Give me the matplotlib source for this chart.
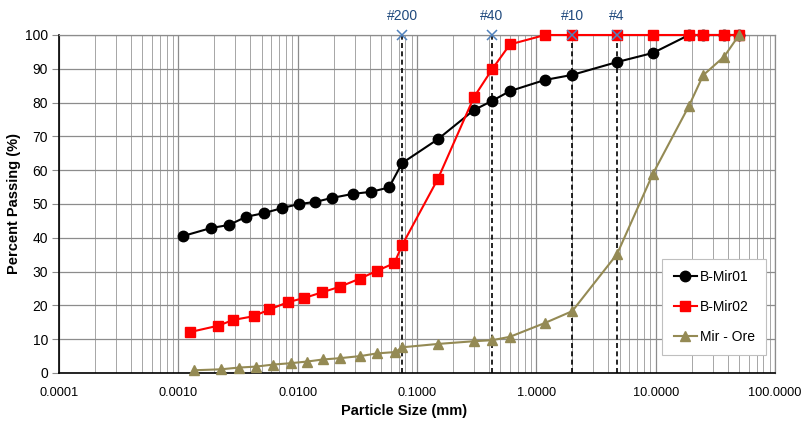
import matplotlib
matplotlib.use("Agg")
import matplotlib.pyplot as plt
from matplotlib.ticker import LogLocator, FixedLocator, NullFormatter

plt.rcParams['font.family'] = ['Liberation Sans', 'DejaVu Sans']

# B-Mir01
mir01_size = [0.00109, 0.00188, 0.00266, 0.00369, 0.00522, 0.0074, 0.0103, 0.014,
              0.0194, 0.0291, 0.0412, 0.0583, 0.075, 0.15, 0.30, 0.425, 0.6, 1.18,
              2.0, 4.75, 9.5, 19.0, 25.0, 37.5, 50.0]
mir01_pass = [40.5, 42.9, 43.8, 46.2, 47.3, 48.8, 50.0, 50.6, 51.8, 53.0, 53.6, 54.9,
              62.1, 69.2, 77.8, 80.5, 83.4, 86.7, 88.2, 92.0, 94.7, 100, 100, 100, 100]

# B-Mir02
mir02_size = [0.00125, 0.00216, 0.00289, 0.00428, 0.0058, 0.00836, 0.01138, 0.0161,
              0.0225, 0.0331, 0.046, 0.0646, 0.075, 0.15, 0.30, 0.425, 0.6, 1.18,
              2.0, 4.75, 9.5, 19.0, 25.0, 37.5, 50.0]
mir02_pass = [12.1, 14.0, 15.7, 16.8, 18.8, 21.0, 22.2, 23.9, 25.5, 27.9, 30.2, 32.5,
              37.8, 57.5, 81.6, 89.8, 97.2, 100, 100, 100, 100, 100, 100, 100, 100]

# Mir - Ore
ore_size = [0.00134, 0.00229, 0.0032, 0.0045, 0.00626, 0.00875, 0.01206, 0.0163,
            0.0228, 0.0334, 0.0463, 0.0659, 0.075, 0.15, 0.30, 0.425, 0.6, 1.18,
            2.0, 4.75, 9.5, 19.0, 25.0, 37.5, 50.0]
ore_pass = [0.8, 1.1, 1.6, 1.9, 2.5, 2.9, 3.4, 4.0, 4.4, 5.0, 5.8, 6.2,
            7.6, 8.6, 9.4, 9.7, 10.7, 14.8, 18.3, 35.2, 59.0, 79.0, 88.1, 93.6, 100]

# Sieves
sieve_size = [0.075, 0.425, 2.0, 4.75]
sieve_label = ["#200", "#40", "#10", "#4"]

x_ticks = [0.0001, 0.001, 0.01, 0.1, 1, 10, 100]
x_ticklabels = ["0.0001", "0.0010", "0.0100", "0.1000", "1.0000", "10.0000", "100.0000"]

fig = plt.figure(figsize=(8.02, 4.21), dpi=100)
ax = fig.add_axes([59/802, 1-373/421, (775-59)/802, (373-35)/421])

ax.set_xscale('log')
ax.set_xlim(0.0001, 100)
ax.set_ylim(0, 100)

ax.xaxis.set_major_locator(FixedLocator(x_ticks))
ax.set_xticklabels(x_ticklabels)
ax.xaxis.set_minor_locator(LogLocator(base=10, subs=range(2, 10), numticks=100))
ax.xaxis.set_minor_formatter(NullFormatter())
ax.set_yticks(range(0, 101, 10))

ax.grid(True, which='major', axis='both', color='#8c8c8c', linewidth=0.9)
ax.grid(True, which='minor', axis='x', color='#a6a6a6', linewidth=0.7)
ax.set_axisbelow(True)

for s in ['top', 'right']:
    ax.spines[s].set_color('#8c8c8c')
    ax.spines[s].set_linewidth(0.9)
for s in ['left', 'bottom']:
    ax.spines[s].set_color('black')
    ax.spines[s].set_linewidth(1.2)

ax.tick_params(axis='x', which='both', length=0, labelsize=9.2, pad=10)
ax.tick_params(axis='y', which='major', length=5, color='#8c8c8c', labelsize=10, pad=3)

for s in sieve_size:
    ax.plot([s, s], [0, 100], color='black', linestyle=(0, (3, 2)), linewidth=1.2, zorder=2)

l1, = ax.plot(mir01_size, mir01_pass, color='black', marker='o', markersize=7.5,
              linewidth=1.5, label='B-Mir01', zorder=3, clip_on=False)
l2, = ax.plot(mir02_size, mir02_pass, color='#ff0000', marker='s', markersize=7,
              linewidth=1.5, label='B-Mir02', zorder=4, clip_on=False)
l3, = ax.plot(ore_size, ore_pass, color='#948a54', marker='^', markersize=7.5,
              linewidth=1.5, label='Mir - Ore', zorder=5, clip_on=False)

ax.plot(sieve_size, [100]*len(sieve_size), linestyle='none', marker='x',
        color='#4f81bd', markersize=7, markeredgewidth=1.1, zorder=6, clip_on=False)
for s, lab in zip(sieve_size, sieve_label):
    ax.annotate(lab, (s, 100), xytext=(0, 14), textcoords='offset points',
                ha='center', va='center', color='#1f497d', fontsize=10)

ax.set_xlabel('Particle Size (mm)', fontsize=10.5, fontweight='bold')
ax.xaxis.set_label_coords((404-59)/716, -(404-373)/338)
ax.set_ylabel('Percent Passing (%)', fontsize=10.5, fontweight='bold')
ax.yaxis.set_label_coords(-(59-21)/716, 0.5)

leg = ax.legend(handles=[l1, l2, l3], loc='lower right',
                bbox_to_anchor=((766-59)/716, (373-355)/338), borderaxespad=0,
                frameon=True, fancybox=False, edgecolor='#bfbfbf', framealpha=1,
                fontsize=10, labelspacing=1.15, handlelength=1.7, handletextpad=0.2,
                borderpad=0.8)
leg.get_frame().set_linewidth(0.8)

fig.savefig('out.png', dpi=100)
